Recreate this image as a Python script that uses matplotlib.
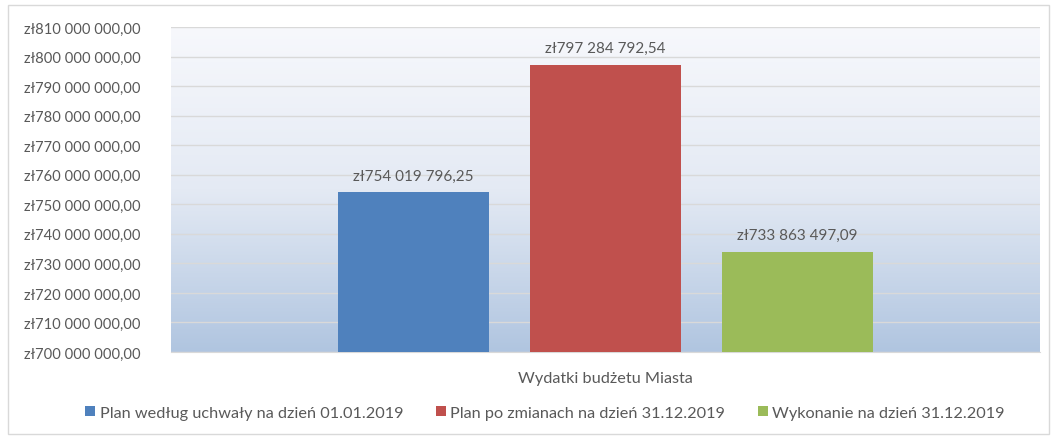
import matplotlib
matplotlib.use("Agg")
import matplotlib.pyplot as plt
import numpy as np
from matplotlib.patches import Rectangle
from matplotlib.colors import LinearSegmentedColormap

category = "Wydatki budżetu Miasta"
series = ["Plan według uchwały na dzień 01.01.2019",
          "Plan po zmianach na dzień 31.12.2019",
          "Wykonanie na dzień 31.12.2019"]
values = [754019796.25, 797284792.54, 733863497.09]
colors = ["#4f81bd", "#c0504d", "#9bbb59"]
y_min, y_max, y_step = 700000000, 810000000, 10000000

def fmt(v):
    s = f"{v:,.2f}"
    s = s.replace(",", " ").replace(".", ",")
    return "zł" + s

plt.rcParams['font.family'] = ['Lato', 'DejaVu Sans']
txt = "#595959"

fig = plt.figure(figsize=(10.54, 4.39), dpi=100)
fig.patches.append(Rectangle((8/1054, 1-435/439), (1049-8)/1054, (435-6)/439,
                             transform=fig.transFigure, fill=False,
                             edgecolor="#d9d9d9", linewidth=1))
ax = fig.add_axes([171/1054, 1-353/439, (1040-171)/1054, (353-28)/439])

cmap = LinearSegmentedColormap.from_list("bg", ["#f7f8fc", "#e4eaf4", "#b0c5e0"])
grad = np.linspace(0, 1, 256).reshape(-1, 1)
ax.imshow(grad, aspect="auto", cmap=cmap, extent=[0, 1, 0, 1], origin="upper",
          transform=ax.transAxes, zorder=0)

offset = 0.221
width = 0.174
xs = [-offset, 0, offset]
for x, v, c, s in zip(xs, values, colors, series):
    ax.bar(x, v - y_min, bottom=y_min, width=width, color=c, label=s, zorder=3)
    ax.text(x, v + 3300000, fmt(v), ha="center", va="bottom",
            fontsize=11, color=txt, zorder=4)

ax.set_xlim(-0.5, 0.5)
ax.set_ylim(y_min, y_max)
ticks = np.arange(y_min, y_max + 1, y_step)
ax.set_yticks(ticks)
ax.set_yticklabels([fmt(t) for t in ticks], fontsize=10.6, color=txt)
ax.yaxis.grid(True, color="#d9d9d9", linewidth=1, zorder=1)
ax.set_axisbelow(True)
ax.tick_params(axis="y", length=0, pad=22)
ax.set_xticks([0])
ax.set_xticklabels([category], fontsize=11.7, color=txt)
ax.tick_params(axis="x", length=0, pad=14)
for sp in ["top", "right", "left"]:
    ax.spines[sp].set_visible(False)
ax.spines["bottom"].set_color("#d9d9d9")

leg = fig.legend(loc="center", bbox_to_anchor=(545/1054, 1-414/439), ncol=3,
                 frameon=False, fontsize=11.7, handlelength=0.6, handleheight=0.6,
                 handletextpad=0.3, columnspacing=2.0)
for t in leg.get_texts():
    t.set_color(txt)

fig.savefig("out.png", dpi=100)
